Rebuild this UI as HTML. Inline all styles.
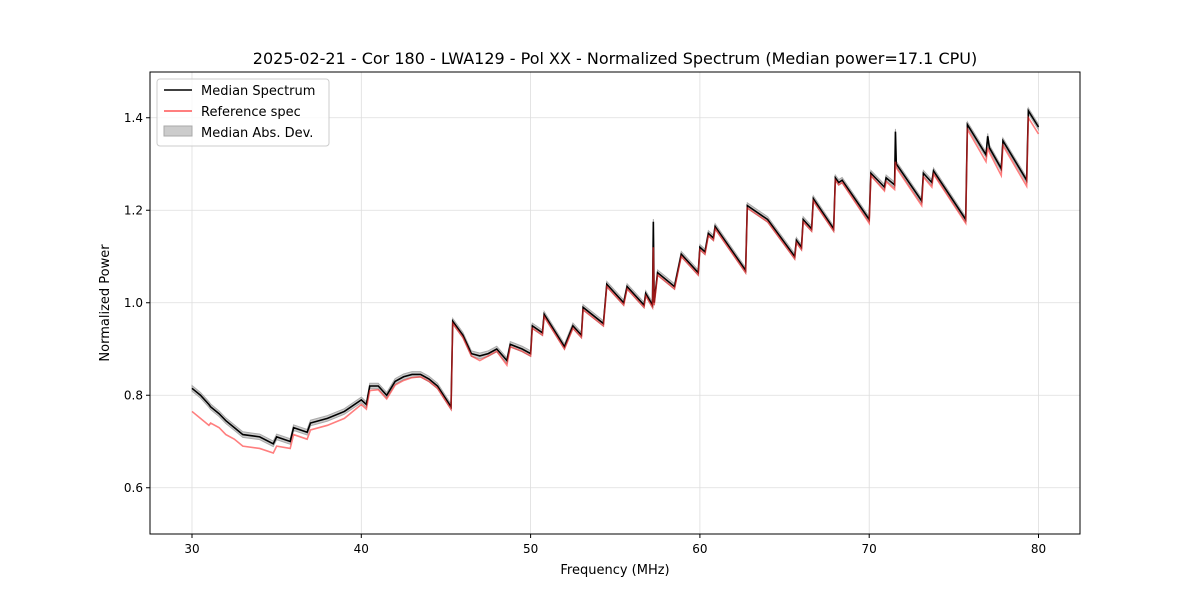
<!DOCTYPE html>
<html><head><meta charset="utf-8"><style>
body{margin:0;background:#fff;font-family:"DejaVu Sans","Liberation Sans",sans-serif;}
svg text{font-family:"DejaVu Sans","Liberation Sans",sans-serif;}
</style></head><body>
<svg id="chart" width="1200" height="600">
<rect width="1200" height="600" fill="#fff"/>
<g id="grid"></g>
<g id="band"></g>
<g id="lines"></g>
<rect x="150" y="72" width="930" height="462" fill="none" stroke="#000" stroke-width="1"/>
<g id="ticks"></g>
<text x="615" y="64" text-anchor="middle" font-size="16">2025-02-21 - Cor 180 - LWA129 - Pol XX - Normalized Spectrum (Median power=17.1 CPU)</text>
<text x="615" y="574" text-anchor="middle" font-size="13">Frequency (MHz)</text>
<text transform="translate(109,303) rotate(-90)" text-anchor="middle" font-size="13">Normalized Power</text>
<g>
<rect x="157" y="79" width="172" height="67" rx="3" fill="#fff" fill-opacity="0.8" stroke="#ccc"/>
<g><line x1="164" y1="90" x2="192" y2="90" stroke="#000" stroke-width="1.5"/><text x="201" y="95" font-size="13">Median Spectrum</text></g>
<g><line x1="164" y1="111" x2="192" y2="111" stroke="#f55" stroke-width="1.5"/><text x="201" y="116" font-size="13">Reference spec</text></g>
<g><rect x="164" y="126" width="28" height="10" fill="#ccc" stroke="#aaa"/><text x="201" y="137" font-size="13">Median Abs. Dev.</text></g>
</g>
</svg>
<script>
const freqs=[30,30.5,31,31.1,31.6,32,32.5,33,34,34.8,35,35.8,36,36.8,37,38,39,40,40.3,40.5,41,41.5,42,42.5,43,43.5,44,44.5,45.3,45.4,46,46.5,47,47.5,48,48.6,48.8,49.5,50,50.1,50.7,50.8,52,52.5,53,53.1,54.3,54.5,55.5,55.7,56.7,56.8,57.2,57.25,57.3,57.5,58.5,58.9,59.9,60,60.3,60.5,60.8,60.9,62.7,62.8,64,65.6,65.7,66,66.1,66.6,66.7,67.9,68,68.2,68.4,70,70.1,70.9,71,71.5,71.55,71.6,73.1,73.2,73.7,73.8,75.7,75.8,76.9,77,77.1,77.8,77.9,79.3,79.4,80];
const median=[0.815,0.8,0.78,0.775,0.76,0.745,0.73,0.715,0.71,0.695,0.71,0.7,0.73,0.72,0.74,0.75,0.765,0.79,0.78,0.82,0.82,0.8,0.83,0.84,0.845,0.845,0.835,0.82,0.775,0.96,0.93,0.89,0.885,0.89,0.9,0.875,0.91,0.9,0.89,0.95,0.935,0.975,0.905,0.95,0.93,0.99,0.955,1.04,1.0,1.035,0.995,1.02,0.995,1.175,1.0,1.065,1.035,1.105,1.065,1.12,1.11,1.15,1.14,1.165,1.07,1.21,1.18,1.1,1.135,1.12,1.18,1.16,1.225,1.16,1.27,1.26,1.265,1.18,1.28,1.25,1.27,1.255,1.37,1.3,1.22,1.28,1.26,1.285,1.18,1.385,1.32,1.36,1.335,1.29,1.35,1.265,1.415,1.38];
const reference=[0.765,0.75,0.735,0.74,0.73,0.715,0.705,0.69,0.685,0.675,0.69,0.685,0.715,0.705,0.725,0.735,0.75,0.78,0.77,0.81,0.812,0.792,0.822,0.832,0.838,0.84,0.83,0.815,0.77,0.955,0.925,0.885,0.875,0.885,0.895,0.865,0.905,0.895,0.885,0.945,0.93,0.97,0.9,0.945,0.925,0.985,0.95,1.035,0.995,1.03,0.99,1.015,0.99,1.12,0.995,1.06,1.03,1.1,1.06,1.115,1.105,1.145,1.135,1.16,1.065,1.205,1.175,1.095,1.13,1.115,1.175,1.155,1.22,1.155,1.265,1.255,1.26,1.172,1.275,1.242,1.262,1.245,1.305,1.292,1.21,1.272,1.25,1.278,1.172,1.375,1.305,1.335,1.325,1.275,1.34,1.252,1.4,1.365];
const xTicks=[30,40,50,60,70,80];
const yTicks=[0.6,0.8,1.0,1.2,1.4];
const mad=0.006;
const X=f=>192+(f-30)*16.93;
const Y=v=>534-(v-0.5)*462.5;
const NS='http://www.w3.org/2000/svg';
function mk(t,a,p){const e=document.createElementNS(NS,t);for(const k in a)e.setAttribute(k,a[k]);p.appendChild(e);return e;}
const grid=document.getElementById('grid'),ticks=document.getElementById('ticks');
xTicks.forEach(t=>{
 const l=mk('line',{x1:X(t),x2:X(t),y1:72,y2:534,stroke:'#ddd','stroke-width':0.8},grid);
 
 mk('line',{x1:X(t),x2:X(t),y1:534,y2:538,stroke:'#000'},ticks);
 const tx=mk('text',{x:X(t),y:553,'text-anchor':'middle','font-size':12},ticks);tx.textContent=t;
 
});
yTicks.forEach(t=>{
 const l=mk('line',{x1:150,x2:1080,y1:Y(t),y2:Y(t),stroke:'#ddd','stroke-width':0.8},grid);
 
 mk('line',{x1:146,x2:150,y1:Y(t),y2:Y(t),stroke:'#000'},ticks);
 const tx=mk('text',{x:143,y:Y(t)+4,'text-anchor':'end','font-size':12},ticks);tx.textContent=t.toFixed(1);
 
});
let up=freqs.map((f,i)=>X(f)+','+Y(median[i]+mad)).join(' ');
let dn=freqs.map((f,i)=>X(f)+','+Y(median[i]-mad)).reverse().join(' ');
const band=mk('polygon',{points:up+' '+dn,fill:'#aaa','fill-opacity':0.6,stroke:'#aaa','stroke-width':1},document.getElementById('band'));

const lines=document.getElementById('lines');
const ml=mk('polyline',{points:freqs.map((f,i)=>X(f)+','+Y(median[i])).join(' '),fill:'none',stroke:'#000','stroke-width':1.6},lines);

const rl=mk('polyline',{points:freqs.map((f,i)=>X(f)+','+Y(reference[i])).join(' '),fill:'none',stroke:'rgba(255,40,40,0.6)','stroke-width':1.6},lines);

</script>
</body></html>
